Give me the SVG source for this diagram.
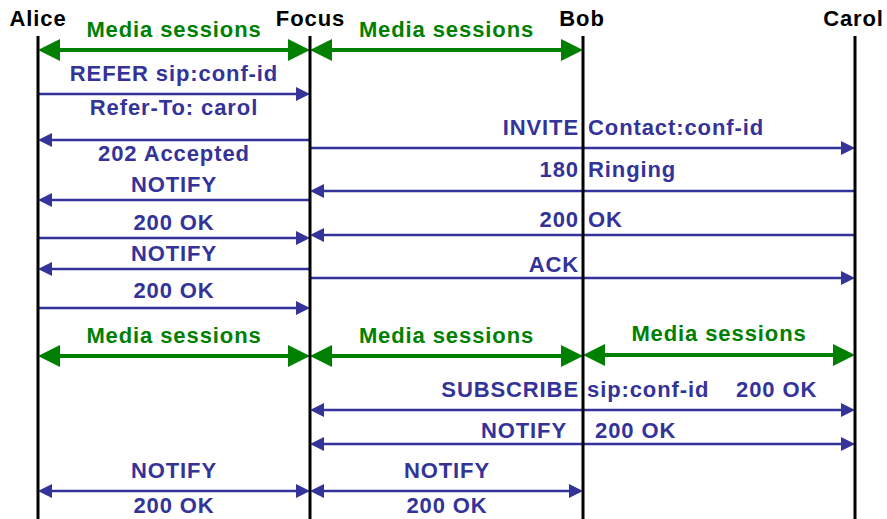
<svg xmlns="http://www.w3.org/2000/svg" width="887" height="519" viewBox="0 0 887 519">
<style>
text{font-family:"Liberation Sans",Arial,Helvetica,sans-serif;font-weight:bold;font-size:22px;letter-spacing:0.9px}
.name{fill:#000;text-anchor:middle}
.life{stroke:#000;stroke-width:3}
.msg{stroke:#333399;stroke-width:2.4;fill:none}
.med{stroke:#008000;stroke-width:4;fill:none}
.bt{fill:#333399}
.gt{fill:#008000;text-anchor:middle}
.c{text-anchor:middle}
.e{text-anchor:end}
.s{text-anchor:start}
</style>
<defs>
<marker id="ab" viewBox="0 0 14 14" markerWidth="14" markerHeight="14" markerUnits="userSpaceOnUse" refX="10" refY="7" orient="auto-start-reverse"><path d="M0,0 L14,7 L0,14 z" fill="#333399"/></marker>
<marker id="ag" viewBox="0 0 22 22" markerWidth="22" markerHeight="22" markerUnits="userSpaceOnUse" refX="16" refY="11" orient="auto-start-reverse"><path d="M0,0 L22,11 L0,22 z" fill="#008000"/></marker>
</defs>
<g id="connectors">
<!-- media sessions -->
<line class="med" x1="44" y1="50" x2="304" y2="50" marker-start="url(#ag)" marker-end="url(#ag)"/>
<text class="gt" x="174" y="37">Media sessions</text>
<line class="med" x1="316" y1="50" x2="577" y2="50" marker-start="url(#ag)" marker-end="url(#ag)"/>
<text class="gt" x="446.5" y="37">Media sessions</text>
<line class="med" x1="44" y1="356" x2="304" y2="356" marker-start="url(#ag)" marker-end="url(#ag)"/>
<text class="gt" x="174" y="343">Media sessions</text>
<line class="med" x1="316" y1="356" x2="577" y2="356" marker-start="url(#ag)" marker-end="url(#ag)"/>
<text class="gt" x="446.5" y="342.5">Media sessions</text>
<line class="med" x1="589" y1="355" x2="849" y2="355" marker-start="url(#ag)" marker-end="url(#ag)"/>
<text class="gt" x="719" y="341">Media sessions</text>
<!-- REFER -->
<line class="msg" x1="38" y1="94" x2="306" y2="94" marker-end="url(#ab)"/>
<text class="bt c" x="174" y="81">REFER sip:conf-id</text>
<text class="bt c" x="174" y="115">Refer-To: carol</text>
<!-- 202 -->
<line class="msg" x1="310" y1="140" x2="42" y2="140" marker-end="url(#ab)"/>
<text class="bt c" x="174" y="161">202 Accepted</text>
<!-- INVITE -->
<line class="msg" x1="310" y1="148" x2="851" y2="148" marker-end="url(#ab)"/>
<text class="bt e" x="579" y="135">INVITE</text>
<text class="bt s" x="588" y="135">Contact:conf-id</text>
<!-- 180 -->
<line class="msg" x1="855" y1="191" x2="314" y2="191" marker-end="url(#ab)"/>
<text class="bt e" x="579" y="177">180</text>
<text class="bt s" x="588" y="177">Ringing</text>
<!-- NOTIFY -->
<line class="msg" x1="310" y1="200" x2="42" y2="200" marker-end="url(#ab)"/>
<text class="bt c" x="174" y="192">NOTIFY</text>
<!-- 200 OK from Carol -->
<line class="msg" x1="855" y1="235" x2="314" y2="235" marker-end="url(#ab)"/>
<text class="bt e" x="579" y="227">200</text>
<text class="bt s" x="588" y="227">OK</text>
<!-- 200 OK Alice -->
<line class="msg" x1="38" y1="238" x2="306" y2="238" marker-end="url(#ab)"/>
<text class="bt c" x="174" y="230">200 OK</text>
<!-- NOTIFY -->
<line class="msg" x1="310" y1="269" x2="42" y2="269" marker-end="url(#ab)"/>
<text class="bt c" x="174" y="261">NOTIFY</text>
<!-- ACK -->
<line class="msg" x1="310" y1="278" x2="851" y2="278" marker-end="url(#ab)"/>
<text class="bt e" x="579" y="272">ACK</text>
<!-- 200 OK Alice -->
<line class="msg" x1="38" y1="308" x2="306" y2="308" marker-end="url(#ab)"/>
<text class="bt c" x="174" y="298">200 OK</text>
<!-- SUBSCRIBE -->
<line class="msg" x1="314" y1="410" x2="851" y2="410" marker-start="url(#ab)" marker-end="url(#ab)"/>
<text class="bt e" x="579" y="397">SUBSCRIBE</text>
<text class="bt s" x="587" y="397">sip:conf-id</text>
<text class="bt s" x="736" y="397">200 OK</text>
<!-- NOTIFY Carol -->
<line class="msg" x1="314" y1="444" x2="851" y2="444" marker-start="url(#ab)" marker-end="url(#ab)"/>
<text class="bt e" x="567" y="438">NOTIFY</text>
<text class="bt s" x="595" y="438">200 OK</text>
<!-- NOTIFY Alice -->
<line class="msg" x1="42" y1="491" x2="306" y2="491" marker-start="url(#ab)" marker-end="url(#ab)"/>
<text class="bt c" x="174" y="478">NOTIFY</text>
<text class="bt c" x="174" y="513">200 OK</text>
<!-- NOTIFY Bob -->
<line class="msg" x1="314" y1="491" x2="579" y2="491" marker-start="url(#ab)" marker-end="url(#ab)"/>
<text class="bt c" x="447" y="478">NOTIFY</text>
<text class="bt c" x="447" y="513">200 OK</text>
</g>
<g id="alice"><text class="name" x="38" y="26">Alice</text><line class="life" x1="38" y1="36" x2="38" y2="519"/></g>
<g id="focus"><text class="name" x="310.5" y="26">Focus</text><line class="life" x1="310" y1="36" x2="310" y2="519"/></g>
<g id="bob"><text class="name" x="582" y="26">Bob</text><line class="life" x1="583" y1="36" x2="583" y2="519"/></g>
<g id="carol"><text class="name" x="853.5" y="26">Carol</text><line class="life" x1="855" y1="36" x2="855" y2="519"/></g>
</svg>
